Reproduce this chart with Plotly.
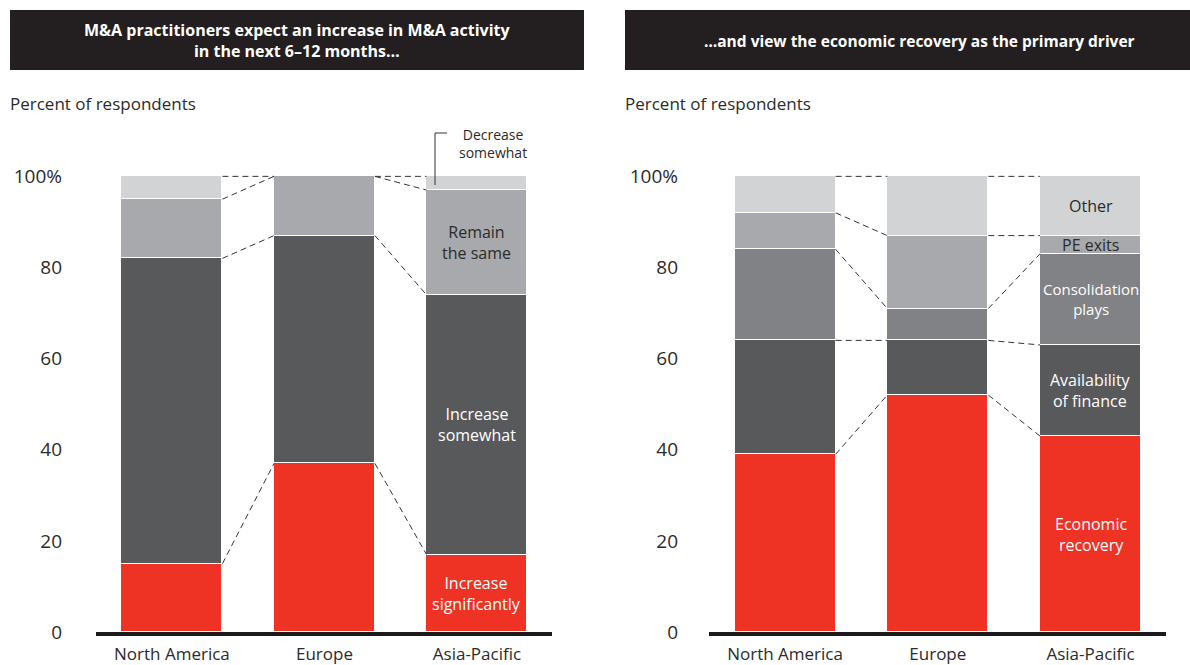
import plotly.graph_objects as go

# ---------------- data ----------------
regions = ["North America", "Europe", "Asia-Pacific"]

# Left panel: expected change in M&A activity (bottom to top)
left_names = ["Increase<br>significantly", "Increase<br>somewhat", "Remain<br>the same", "Decrease<br>somewhat"]
inc_sig = [15, 37, 17]
inc_some = [67, 50, 57]
remain = [13, 13, 23]
decrease = [5, 0, 3]

# Right panel: primary driver (bottom to top)
right_names = ["Economic<br>recovery", "Availability<br>of finance", "Consolidation<br>plays", "PE exits", "Other"]
econ = [39, 52, 43]
finance = [25, 12, 20]
consol = [20, 7, 20]
pe_exits = [8, 16, 4]
other = [8, 13, 13]

y_ticks = [0, 20, 40, 60, 80, 100]
y_ticktext = ["0", "20", "40", "60", "80", "100%"]

# ---------------- style ----------------
RED = "#EE3224"
DARK = "#58595B"
MIDDARK = "#808285"
MID = "#A7A9AC"
LIGHT = "#D1D3D4"
TXT = "#2b2b2b"
FONT = "Open Sans"
W = 0.662
FW, FH = 1190, 665

left_series = [inc_sig, inc_some, remain, decrease]
left_colors = [RED, DARK, MID, LIGHT]
right_series = [econ, finance, consol, pe_exits, other]
right_colors = [RED, DARK, MIDDARK, MID, LIGHT]

fig = go.Figure()
xs = [0, 1, 2]


def add_panel(series, colors, names, xa, ya):
    for vals, col, nm in zip(series, colors, names):
        fig.add_trace(go.Bar(x=xs, y=vals, width=W, marker=dict(color=col, line=dict(color="white", width=1.2)),
                             name=nm, xaxis=xa, yaxis=ya, showlegend=False, hoverinfo="skip"))
    run = [0, 0, 0]
    for vals in series:
        run = [r + v for r, v in zip(run, vals)]
        for i in range(2):
            fig.add_trace(go.Scatter(x=[i + W / 2, i + 1 - W / 2], y=[run[i], run[i + 1]], mode="lines",
                                     line=dict(color="#333333", width=1, dash="6px,4px"),
                                     xaxis=xa, yaxis=ya, showlegend=False, hoverinfo="skip"))


add_panel(left_series, left_colors, left_names, "x", "y")
add_panel(right_series, right_colors, right_names, "x2", "y2")


def px(x):
    return x / FW


def py(y):
    return 1 - y / FH


annotations = []
base = 0
left_lab_col = ["white", "white", TXT]
for vals, nm, lc in zip(left_series[:3], left_names[:3], left_lab_col):
    mid = base + vals[2] / 2
    annotations.append(dict(x=2, y=mid, xref="x", yref="y", text=nm, showarrow=False,
                            xanchor="center", yanchor="middle",
                            font=dict(family=FONT, size=16, color=lc)))
    base += vals[2]
annotations.append(dict(x=px(493), y=py(143), xref="paper", yref="paper", text=left_names[3],
                        xanchor="center", yanchor="middle",
                        showarrow=False, font=dict(family=FONT, size=14, color=TXT), align="center"))

base = 0
right_lab_col = ["white", "white", "white", TXT, TXT]
for vals, nm, lc in zip(right_series, right_names, right_lab_col):
    mid = base + vals[2] / 2
    annotations.append(dict(x=2, y=mid, xref="x2", yref="y2", text=nm, showarrow=False,
                            xanchor="center", yanchor="middle",
                            font=dict(family=FONT, size=16 if nm != "Consolidation<br>plays" else 15, color=lc)))
    base += vals[2]

# titles
annotations.append(dict(x=px(297), y=py(40), xref="paper", yref="paper", xanchor="center", yanchor="middle",
                        text="<b>M&A practitioners expect an increase in M&A activity<br>in the next 6–12 months…</b>",
                        showarrow=False, font=dict(family=FONT, size=16, color="white"), align="center"))
annotations.append(dict(x=px(919), y=py(41), xref="paper", yref="paper", xanchor="center", yanchor="middle",
                        text="<b>…and view the economic recovery as the primary driver</b>",
                        showarrow=False, font=dict(family=FONT, size=15.5, color="white"), align="center"))
annotations.append(dict(x=px(8), y=py(103), xref="paper", yref="paper", xanchor="left", yanchor="middle",
                        text="Percent of respondents", showarrow=False, font=dict(family=FONT, size=17, color=TXT)))
annotations.append(dict(x=px(623), y=py(103), xref="paper", yref="paper", xanchor="left", yanchor="middle",
                        text="Percent of respondents", showarrow=False, font=dict(family=FONT, size=17, color=TXT)))

shapes = [
    dict(type="rect", xref="paper", yref="paper", x0=px(10), x1=px(584), y0=py(70), y1=py(10),
         fillcolor="#231F20", line=dict(width=0), layer="below"),
    dict(type="rect", xref="paper", yref="paper", x0=px(625), x1=px(1190), y0=py(70), y1=py(10),
         fillcolor="#231F20", line=dict(width=0), layer="below"),
    dict(type="line", xref="paper", yref="paper", x0=px(435), x1=px(447), y0=py(133), y1=py(133),
         line=dict(color="#333333", width=1)),
    dict(type="line", xref="paper", yref="paper", x0=px(435), x1=px(435), y0=py(133), y1=py(185),
         line=dict(color="#333333", width=1)),
]

ydom = [py(632), py(175)]
axis_common_x = dict(tickvals=xs, ticktext=regions, showgrid=False, zeroline=False, showline=True,
                     linecolor="#1a1a1a", linewidth=4, ticks="", automargin=False, ticklabelstandoff=4,
                     tickfont=dict(family=FONT, size=17, color=TXT), fixedrange=True)
axis_common_y = dict(range=[0, 100.3], tickvals=y_ticks, ticktext=y_ticktext, showgrid=False, zeroline=False,
                     showline=False, ticks="", automargin=False,
                     tickfont=dict(family=FONT, size=19, color=TXT), domain=ydom)

fig.update_layout(
    width=FW, height=FH, margin=dict(l=0, r=0, t=0, b=0, autoexpand=False),
    paper_bgcolor="white", plot_bgcolor="white", barmode="stack", bargap=0,
    xaxis=dict(domain=[px(96), px(552)], range=[-0.498, 2.492], anchor="y", **axis_common_x),
    yaxis=dict(anchor="x", ticklabelstandoff=33, **axis_common_y),
    xaxis2=dict(domain=[px(709), px(1166)], range=[-0.498, 2.494], anchor="y2", **axis_common_x),
    yaxis2=dict(anchor="x2", ticklabelstandoff=30, **axis_common_y),
    annotations=annotations, shapes=shapes,
)

fig.write_html("out.html", config={"displayModeBar": False},
               post_script="document.body.style.margin='0';document.body.style.overflow='hidden';")
